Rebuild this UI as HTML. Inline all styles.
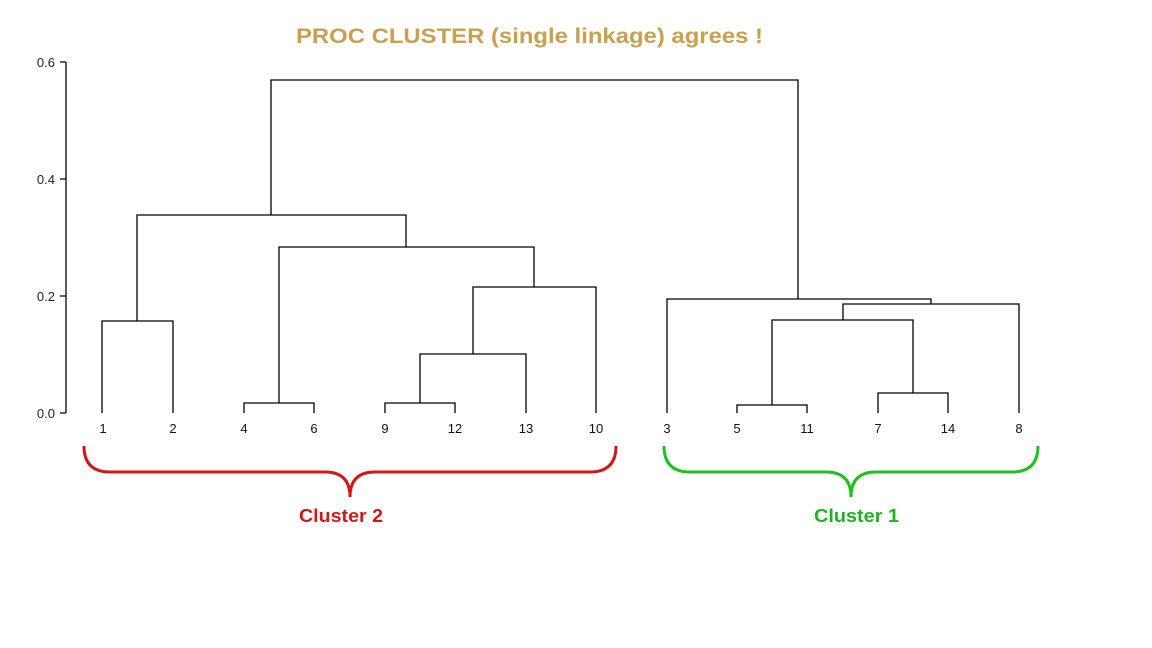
<!DOCTYPE html>
<html><head><meta charset="utf-8"><style>
html,body{margin:0;padding:0;background:#fff;}
svg{display:block;}
</style></head><body>
<svg width="1152" height="648" viewBox="0 0 1152 648" xmlns="http://www.w3.org/2000/svg" font-family="Liberation Sans, sans-serif">
<rect width="1152" height="648" fill="#fff"/>
<text x="296" y="43" textLength="467" lengthAdjust="spacingAndGlyphs" font-size="21" font-weight="bold" fill="#c9a04e">PROC CLUSTER (single linkage) agrees !</text>
<g stroke="#000" stroke-width="1.3" fill="none">
<path d="M66 62V413M60 62H66M60 179H66M60 296H66M60 413H66"/>
<path d="M102 413V321H173V413"/>
<path d="M244 413V403H314V413"/>
<path d="M385 413V403H455V413"/>
<path d="M420 403V354H526V413"/>
<path d="M473 354V287H596V413"/>
<path d="M279 403V247H534V287"/>
<path d="M137 321V215H406V247"/>
<path d="M271 215V80H798V299"/>
<path d="M737 413V405H807V413"/>
<path d="M878 413V393H948V393V413"/>
<path d="M772 405V320H913V393"/>
<path d="M843 320V304H1019V413"/>
<path d="M667 413V299H931V304"/>
</g>
<g font-size="13" fill="#222" text-anchor="end">
<text x="55" y="67">0.6</text><text x="55" y="184">0.4</text><text x="55" y="301">0.2</text><text x="55" y="418">0.0</text>
</g>
<g font-size="13" fill="#111" text-anchor="middle">
<text x="103" y="433">1</text><text x="173" y="433">2</text><text x="244" y="433">4</text><text x="314" y="433">6</text>
<text x="385" y="433">9</text><text x="455" y="433">12</text><text x="526" y="433">13</text><text x="596" y="433">10</text>
<text x="667" y="433">3</text><text x="737" y="433">5</text><text x="807" y="433">11</text><text x="878" y="433">7</text>
<text x="948" y="433">14</text><text x="1019" y="433">8</text>
</g>
<path d="M84 446Q84 472 110 472H325Q350 472 350 497Q350 472 375 472H590Q616 472 616 446" stroke="#d01818" stroke-width="3" fill="none"/>
<path d="M664 446Q664 472 690 472H826Q851 472 851 497Q851 472 876 472H1012Q1038 472 1038 446" stroke="#20c020" stroke-width="3" fill="none"/>
<text x="299" y="522" textLength="84" lengthAdjust="spacingAndGlyphs" font-size="18" font-weight="bold" fill="#d01818">Cluster 2</text>
<text x="814" y="522" textLength="85" lengthAdjust="spacingAndGlyphs" font-size="18" font-weight="bold" fill="#20b020">Cluster 1</text>
</svg>
</body></html>
